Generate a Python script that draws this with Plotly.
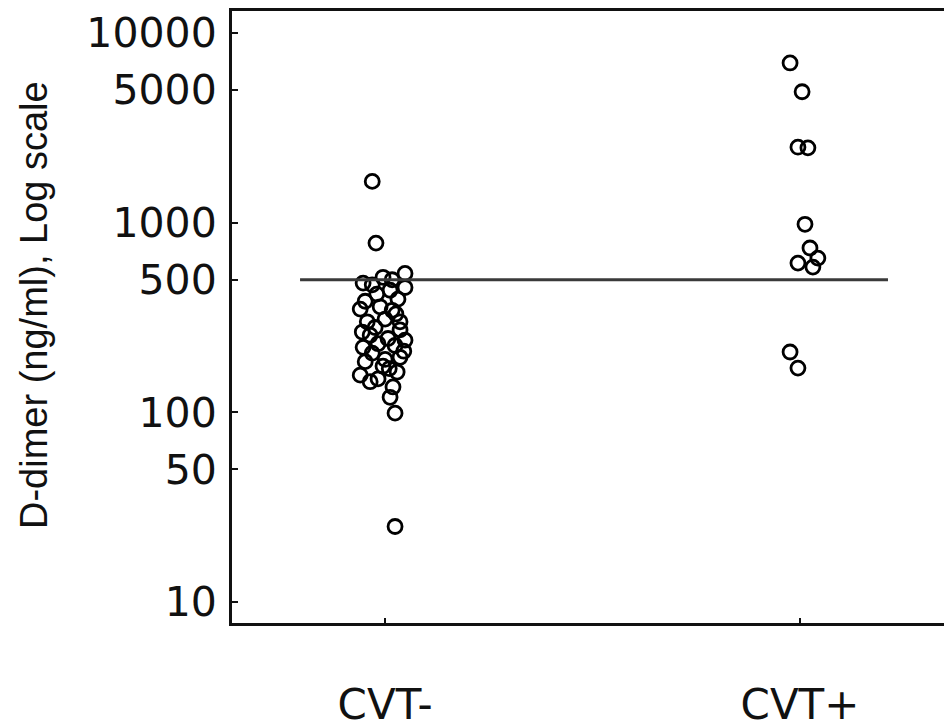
import plotly.graph_objects as go

# ---- data ----
categories = ["CVT-", "CVT+"]
cat_pos = [1, 2]

# CVT- group: D-dimer values (ng/ml) and horizontal jitter (category units)
cvt_neg_values = [1650, 780, 25, 99,
                  540, 515, 480, 500, 455, 470, 440, 395, 385, 360, 345,
                  300, 300, 310, 280, 272, 265, 245, 230, 220, 225, 205,
                  195, 190, 185, 163, 157, 150, 136, 145, 120,
                  420, 330, 255, 210, 175, 350, 240, 170]
cvt_neg_jitter = [-0.031, -0.022, 0.024, 0.024,
                  0.048, -0.005, -0.053, 0.017, 0.048, -0.031, 0.012, 0.031, -0.048, -0.012, 0.017,
                  -0.043, 0.036, 0.0, -0.024, 0.036, -0.055, 0.007, -0.017, -0.053, 0.024, -0.031,
                  0.036, 0.0, -0.048, 0.029, -0.060, -0.017, 0.019, -0.036, 0.012,
                  -0.020, 0.026, -0.036, 0.045, -0.005, -0.060, 0.048, 0.010]

# CVT+ group
cvt_pos_values = [6950, 4900, 2500, 2480, 980, 735, 650, 612, 583, 208, 171]
cvt_pos_jitter = [-0.024, 0.005, -0.005, 0.019, 0.012, 0.024, 0.043, -0.005, 0.031, -0.024, -0.005]

cutoff = 500
cutoff_span = [0.795, 2.212]

y_tickvals = [10, 50, 100, 500, 1000, 5000, 10000]
y_ticktext = ["10", "50", "100", "500", "1000", "5000", "10000"]

fig = go.Figure()

marker_style = dict(symbol="circle-open", size=14, color="black", line=dict(width=2.8, color="black"))

fig.add_trace(go.Scatter(
    x=[cat_pos[0] + j for j in cvt_neg_jitter], y=cvt_neg_values,
    mode="markers", marker=marker_style, showlegend=False))
fig.add_trace(go.Scatter(
    x=[cat_pos[1] + j for j in cvt_pos_jitter], y=cvt_pos_values,
    mode="markers", marker=marker_style, showlegend=False))

fig.add_trace(go.Scatter(
    x=cutoff_span, y=[cutoff, cutoff], mode="lines",
    line=dict(color="#3a3a3a", width=3), showlegend=False))

W, H = 944, 728
L, R, T, B = 232, 0, 11, 105

fig.update_layout(
    width=W, height=H,
    margin=dict(l=L, r=R, t=T, b=B, autoexpand=False),
    paper_bgcolor="white", plot_bgcolor="white",
    font=dict(family="DejaVu Sans", color="#111"),
)

fig.update_xaxes(
    range=[0.631, 2.347], tickvals=cat_pos, ticktext=categories,
    showgrid=False, zeroline=False, automargin=False,
    showline=True, linecolor="#111", linewidth=3, mirror=True,
    ticks="inside", ticklen=5, tickwidth=2, tickcolor="#111",
    tickfont=dict(family="DejaVu Sans", size=42, color="#111"),
    ticklabelstandoff=43,
)
fig.update_yaxes(
    type="log", range=[0.889, 4.116],
    tickvals=y_tickvals, ticktext=y_ticktext,
    showgrid=False, zeroline=False, automargin=False,
    showline=True, linecolor="#111", linewidth=3, mirror=False,
    ticks="inside", ticklen=6, tickwidth=2, tickcolor="#111",
    tickfont=dict(family="DejaVu Sans", size=41, color="#111"),
    ticklabelstandoff=4,
)

plot_w = W - L - R
plot_h = H - T - B
fig.add_annotation(
    text="D-dimer (ng/ml), Log scale",
    xref="paper", yref="paper",
    x=(34 - L) / plot_w, y=(H - B - 305) / plot_h,
    xanchor="center", yanchor="middle", textangle=-90, showarrow=False,
    font=dict(family="Liberation Sans", size=38, color="#111"),
)

fig.write_html(
    "out.html",
    config={"displayModeBar": False},
    post_script="document.body.style.margin='0';document.body.style.overflow='hidden';",
)
